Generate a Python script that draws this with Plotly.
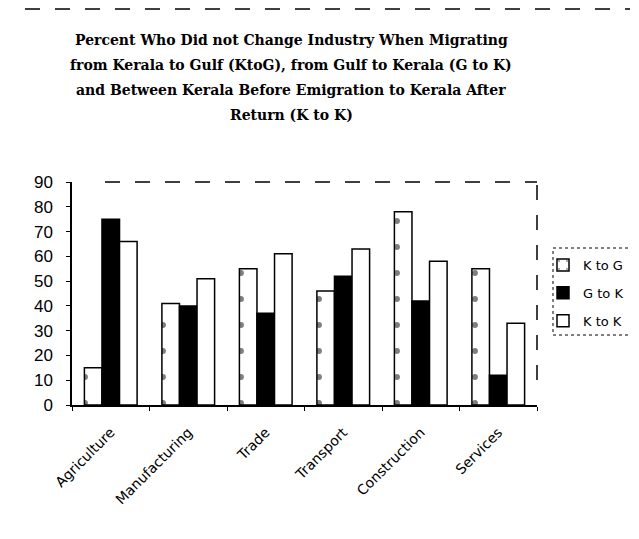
import plotly.graph_objects as go

categories = ["Agriculture", "Manufacturing", "Trade", "Transport", "Construction", "Services"]
k_to_g = [15, 41, 55, 46, 78, 55]
g_to_k = [75, 40, 37, 52, 42, 12]
k_to_k = [66, 51, 61, 63, 58, 33]
y_ticks = [0, 10, 20, 30, 40, 50, 60, 70, 80, 90]
title_lines = [
    "Percent Who Did not Change Industry When Migrating",
    "from Kerala to Gulf (KtoG), from Gulf to Kerala (G to K)",
    "and Between Kerala Before Emigration to Kerala After",
    "Return (K to K)",
]

# the page body has an 8px margin, so the figure is drawn 8px right and down;
# work in page pixels and convert to figure pixels
OFF = 8
W, H = 639, 539
PL, PR, PT, PB = 72, 537, 182, 405  # plot area in page pixels
L, T = PL - OFF, PT - OFF
R, B = W - (PR - OFF), H - (PB - OFF)
pw, ph = PR - PL, PB - PT

def px_x(x):
    return (x - PL) / pw

def px_y(y):
    return (PB - y) / ph

fig = go.Figure()
line = dict(color="black", width=1.5)
fig.add_bar(name="K to G", x=categories, y=k_to_g, legendgroup="a",
            marker=dict(color="white", line=line,
                        pattern=dict(shape=".", fgcolor="black", size=26, solidity=0.04)))
fig.add_bar(name="G to K", x=categories, y=g_to_k, legendgroup="b",
            marker=dict(color="black", line=line))
fig.add_bar(name="K to K", x=categories, y=k_to_k, legendgroup="c",
            marker=dict(color="white", line=line))

annotations = []
for i, t in enumerate(title_lines):
    annotations.append(dict(text="<b>" + t + "</b>", xref="paper", yref="paper",
                            x=px_x(291), y=px_y(40 + 25 * i), showarrow=False,
                            xanchor="center", yanchor="middle",
                            font=dict(family="DejaVu Serif", size=14, color="black")))

shapes = [
    dict(type="line", xref="paper", yref="paper", x0=px_x(105), x1=px_x(537),
         y0=1, y1=1, line=dict(color="black", width=1.5, dash="longdash")),
    dict(type="line", xref="paper", yref="paper", x0=px_x(537), x1=px_x(537),
         y0=px_y(185), y1=px_y(385), line=dict(color="black", width=1.5, dash="longdash")),
    dict(type="line", xref="paper", yref="paper", x0=px_x(25), x1=px_x(630),
         y0=px_y(9), y1=px_y(9), line=dict(color="black", width=1.5, dash="longdash")),
    dict(type="rect", xref="paper", yref="paper", x0=px_x(553), x1=px_x(634),
         y0=px_y(248), y1=px_y(335), line=dict(color="black", width=1, dash="dot")),
]

fig.update_layout(
    width=W, height=H,
    margin=dict(l=L, r=R, t=T, b=B),
    paper_bgcolor="white", plot_bgcolor="white",
    barmode="group", bargap=0.32, bargroupgap=0,
    font=dict(family="Liberation Sans", color="black"),
    showlegend=True,
    legend=dict(x=px_x(543), y=px_y(250), xanchor="left", yanchor="top",
                font=dict(size=13, family="DejaVu Sans"),
                bgcolor="rgba(0,0,0,0)", borderwidth=0,
                itemwidth=30, tracegroupgap=8),
    annotations=annotations,
    shapes=shapes,
)
fig.update_yaxes(range=[0, 90], tickvals=y_ticks, showgrid=False, zeroline=False,
                 showline=True, linecolor="black", linewidth=1.5,
                 ticks="outside", ticklen=4, tickcolor="black", ticklabelstandoff=10,
                 tickfont=dict(size=17, family="Liberation Sans"))
fig.update_xaxes(showgrid=False, showline=True, linecolor="black", linewidth=1.5,
                 ticks="outside", ticklen=4, tickcolor="black", tickson="boundaries",
                 tickangle=-45, ticklabelstandoff=12,
                 tickfont=dict(size=14, family="DejaVu Sans"))

fig.write_html("out.html")
